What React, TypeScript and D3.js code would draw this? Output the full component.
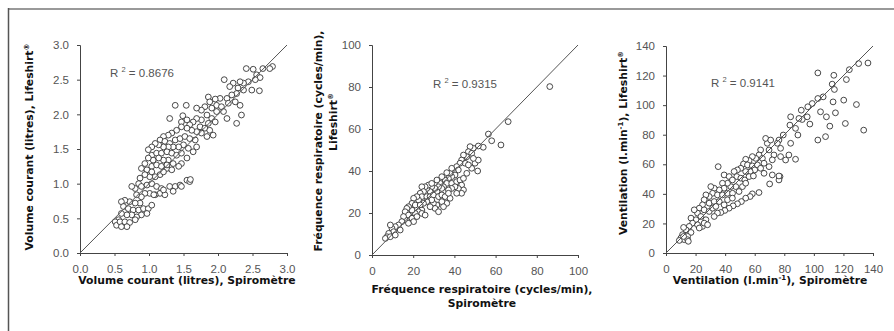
import React, { useRef, useEffect } from 'react';
import * as d3 from 'd3';

// tick values for each panel
const volumeTicks = [0, 0.5, 1, 1.5, 2, 2.5, 3];
const freqTicks = [0, 20, 40, 60, 80, 100];
const ventTicks = [0, 20, 40, 60, 80, 100, 120, 140];

// Volume courant (litres): [spiromètre, lifeshirt]
const volumePoints: [number, number][] = [
  [2.79, 2.69], [2.75, 2.66], [2.65, 2.66], [2.51, 2.65], [2.41, 2.66], [2.56, 2.57], [2.61, 2.53], [2.54, 2.5],
  [2.44, 2.47], [2.37, 2.45], [2.32, 2.47], [2.22, 2.45], [2.17, 2.4], [2.29, 2.38], [2.37, 2.35], [2.49, 2.35],
  [2.6, 2.34], [2.09, 2.5], [2.27, 2.3], [2.2, 2.28], [2.13, 2.23], [2.03, 2.23], [1.96, 2.22], [1.86, 2.25],
  [1.88, 2.18], [1.98, 2.13], [2.05, 2.11], [2.15, 2.16], [2.25, 2.18], [2.32, 2.13], [2.34, 1.99], [2.27, 1.87],
  [2.13, 1.94], [2.08, 2.04], [1.98, 2.04], [1.91, 2.09], [1.81, 2.11], [1.76, 2.06], [1.69, 2.09], [1.84, 1.99],
  [1.91, 1.94], [1.96, 1.89], [1.86, 1.87], [1.76, 1.92], [1.69, 1.94], [1.64, 1.89], [1.59, 1.85], [1.55, 1.92],
  [1.47, 1.89], [1.54, 2.13], [1.38, 2.13], [1.3, 1.94], [1.49, 1.98], [1.74, 1.82], [1.81, 1.8], [1.88, 1.77],
  [1.93, 1.7], [1.84, 1.68], [1.76, 1.73], [1.69, 1.75], [1.62, 1.77], [1.55, 1.8], [1.47, 1.82], [1.4, 1.77],
  [1.33, 1.73], [1.28, 1.7], [1.21, 1.68], [1.16, 1.63], [1.23, 1.61], [1.3, 1.58], [1.38, 1.63], [1.45, 1.65],
  [1.52, 1.68], [1.59, 1.65], [1.67, 1.63], [1.69, 1.53], [1.64, 1.46], [1.57, 1.51], [1.5, 1.56], [1.43, 1.53],
  [1.35, 1.53], [1.28, 1.53], [1.21, 1.53], [1.14, 1.56], [1.09, 1.58], [1.04, 1.53], [0.99, 1.49], [1.04, 1.41],
  [1.11, 1.44], [1.18, 1.44], [1.26, 1.46], [1.33, 1.44], [1.4, 1.41], [1.47, 1.44], [1.55, 1.37], [1.47, 1.29],
  [1.43, 1.25], [1.35, 1.29], [1.28, 1.34], [1.21, 1.34], [1.14, 1.37], [1.06, 1.34], [0.99, 1.37], [0.94, 1.29],
  [0.89, 1.22], [0.97, 1.2], [1.04, 1.25], [1.11, 1.27], [1.18, 1.25], [1.26, 1.22], [1.33, 1.2], [1.16, 1.13],
  [1.09, 1.1], [1.01, 1.1], [0.94, 1.13], [0.87, 1.08], [0.85, 1.0], [0.8, 0.93], [0.75, 0.96], [0.89, 0.96],
  [0.97, 0.98], [1.04, 1.0], [1.11, 0.96], [1.18, 0.93], [1.16, 0.86], [1.23, 0.84], [1.09, 0.84], [1.01, 0.86],
  [1.3, 0.96], [1.38, 0.96], [1.45, 0.98], [1.55, 1.05], [1.59, 1.03], [0.94, 0.86], [0.89, 0.81], [0.82, 0.84],
  [0.87, 0.72], [0.8, 0.72], [0.72, 0.74], [0.65, 0.76], [0.6, 0.74], [0.63, 0.67], [0.7, 0.64], [0.77, 0.62],
  [0.85, 0.62], [0.92, 0.64], [0.99, 0.64], [1.04, 0.69], [0.97, 0.57], [0.89, 0.55], [0.82, 0.52], [0.75, 0.55],
  [0.68, 0.55], [0.6, 0.57], [0.56, 0.48], [0.51, 0.45], [0.53, 0.4], [0.58, 0.45], [0.65, 0.45], [0.72, 0.44],
  [0.8, 0.48], [0.68, 0.38], [0.6, 0.38], [1.26, 1.27], [1.21, 1.17], [1.04, 1.17], [1.07, 0.84], [1.21, 0.91],
  [1.35, 0.89], [1.47, 0.96], [1.6, 1.06],
];

// Fréquence respiratoire (cycles/min)
const freqPoints: [number, number][] = [
  [86.3, 80.2], [66.1, 63.5], [62.6, 52.4], [58.1, 54.4], [56.5, 57.6], [51.3, 40.0],
  [54.0, 51.3], [51.6, 51.9], [49.2, 50.8], [47.6, 51.6], [46.8, 49.2], [48.4, 48.4], [46.0, 46.8], [44.4, 47.6],
  [43.5, 45.2], [45.2, 43.7], [42.7, 43.7], [41.1, 42.1], [41.9, 40.5], [39.5, 39.7], [40.3, 38.1], [38.7, 37.3],
  [37.9, 38.9], [37.1, 36.5], [35.5, 35.7], [36.3, 34.1], [38.7, 34.1], [41.1, 34.9], [42.7, 35.7], [44.4, 36.5],
  [43.5, 33.3], [44.4, 31.0], [43.5, 29.4], [41.9, 31.7], [40.3, 32.5], [38.7, 31.7], [37.1, 31.0], [34.7, 32.5],
  [33.9, 31.7], [33.1, 34.1], [32.3, 32.5], [31.5, 30.2], [30.6, 31.7], [29.0, 32.5], [28.2, 30.2], [26.6, 31.7],
  [27.4, 33.3], [25.8, 32.5], [24.2, 32.5], [25.0, 30.2], [23.4, 29.4], [24.2, 27.8], [26.6, 27.8], [28.2, 27.8],
  [29.8, 28.6], [32.3, 27.8], [33.9, 28.6], [35.5, 27.8], [37.9, 27.0], [36.3, 24.6], [33.9, 25.4], [31.5, 23.8],
  [29.8, 24.6], [30.6, 22.2], [32.3, 20.6], [29.0, 26.2], [26.6, 25.4], [25.0, 24.6], [22.6, 26.2], [21.8, 27.8],
  [20.2, 27.0], [19.4, 24.6], [21.0, 23.8], [23.4, 23.8], [24.2, 21.4], [22.6, 20.6], [21.0, 19.8], [19.4, 21.4],
  [17.7, 23.0], [16.9, 22.2], [16.1, 20.6], [17.7, 19.0], [19.4, 17.5], [21.8, 18.3], [20.2, 15.9], [16.1, 16.7],
  [15.3, 18.3], [14.5, 15.9], [12.9, 14.3], [11.3, 13.5], [9.7, 12.7], [8.9, 14.3], [10.5, 11.1], [8.1, 10.3],
  [7.3, 8.7], [6.5, 7.9], [8.9, 8.7], [11.3, 9.5], [13.7, 11.9], [17.7, 15.1], [24.2, 19.8], [25.8, 19.0],
  [28.2, 23.0], [34.7, 23.0], [37.1, 29.4], [41.1, 29.4], [46.0, 38.9], [48.4, 41.3], [50.0, 43.7], [51.6, 45.2],
  [46.8, 42.9], [49.2, 46.0], [31.5, 35.7], [33.9, 37.3], [29.0, 34.1], [38.7, 41.3], [36.3, 39.2],
];

// Ventilation (l.min-1)
const ventPoints: [number, number][] = [
  [136.6, 128.5], [130.3, 128.1], [124.0, 124.0], [122.0, 117.3], [113.5, 120.2], [102.7, 121.8], [112.4, 114.2],
  [113.9, 110.6], [106.3, 105.6], [102.7, 104.5], [98.9, 101.1], [95.9, 98.9], [91.5, 96.6], [120.2, 103.4],
  [128.8, 100.4], [113.0, 102.2], [104.5, 95.5], [108.5, 92.1], [114.6, 94.8], [121.3, 87.6], [110.8, 85.8],
  [107.9, 78.7], [102.7, 76.4], [133.7, 83.1], [97.3, 87.2], [95.5, 92.1], [92.1, 90.3], [89.9, 91.0], [84.3, 92.1],
  [83.8, 86.5], [87.6, 84.3], [89.2, 79.8], [84.3, 74.2], [79.3, 79.8], [76.4, 76.4], [75.3, 74.2], [77.5, 70.8],
  [83.1, 66.3], [87.6, 63.4], [77.5, 65.2], [73.0, 66.3], [71.9, 63.0], [69.7, 69.7], [68.5, 74.2], [67.4, 77.5],
  [70.8, 76.4], [64.0, 69.7], [62.9, 66.3], [65.2, 64.0], [66.3, 60.7], [69.7, 58.4], [71.9, 52.8], [77.1, 51.7],
  [76.4, 49.4], [70.1, 46.7], [60.7, 64.0], [58.4, 65.2], [56.2, 62.5], [53.9, 63.4], [52.4, 60.2], [55.1, 59.6],
  [58.4, 58.9], [61.8, 59.6], [60.0, 56.2], [56.9, 55.1], [53.9, 55.1], [50.6, 57.3], [48.3, 56.2], [46.1, 55.1],
  [47.9, 51.7], [50.6, 50.6], [53.3, 49.4], [56.2, 51.7], [59.1, 52.1], [64.0, 57.3], [66.3, 53.9], [62.9, 40.9],
  [58.4, 40.0], [56.9, 38.2], [53.9, 37.1], [51.0, 34.8], [48.3, 33.3], [45.4, 31.9], [42.7, 30.3], [39.8, 28.8],
  [37.1, 27.4], [34.8, 27.0], [32.6, 24.7], [35.3, 58.4], [39.3, 52.8], [42.7, 51.7], [44.9, 49.4], [47.2, 44.9],
  [43.8, 44.9], [41.6, 47.2], [38.2, 47.2], [39.3, 43.8], [36.0, 42.7], [32.6, 43.8], [30.3, 44.9], [31.5, 40.4],
  [34.8, 39.3], [38.2, 39.3], [41.6, 40.4], [45.0, 40.4], [49.4, 41.6], [51.7, 44.9], [53.9, 47.2], [29.2, 38.2],
  [27.0, 39.3], [25.8, 36.0], [29.2, 33.7], [32.6, 34.8], [36.0, 34.8], [39.3, 32.6], [41.6, 36.0], [44.9, 37.1],
  [24.7, 32.6], [22.5, 30.3], [25.8, 29.2], [29.2, 28.1], [31.5, 30.3], [33.7, 31.5], [21.3, 27.0], [19.1, 29.2],
  [23.6, 24.7], [27.0, 22.5], [20.2, 22.5], [16.9, 23.6], [18.0, 20.2], [21.3, 19.1], [24.7, 18.0], [25.8, 20.2],
  [15.7, 18.0], [13.5, 15.7], [16.9, 13.9], [14.6, 11.2], [11.2, 12.4], [10.1, 10.1], [12.4, 9.0], [9.0, 8.5],
  [14.6, 9.0], [15.1, 7.9], [11.9, 11.2], [28.1, 19.1], [22.5, 16.9], [11.9, 17.3], [80.9, 62.9], [76.4, 52.1],
];

interface PanelProps {
  points: [number, number][];
  ticks: number[];
  fmt: (d: number) => string;
  left: number;
  right: number;
  top: number;
  bottom: number;
  r2: string;
  r2x: number;
  r2y: number;
}

const Panel: React.FC<PanelProps> = ({ points, ticks, fmt, left, right, top, bottom, r2, r2x, r2y }) => {
  const xAxisRef = useRef<SVGGElement>(null);
  const yAxisRef = useRef<SVGGElement>(null);
  const max = ticks[ticks.length - 1];
  const x = d3.scaleLinear().domain([0, max]).range([left, right]);
  const y = d3.scaleLinear().domain([0, max]).range([bottom, top]);

  useEffect(() => {
    const gx = d3.select(xAxisRef.current);
    gx.selectAll('*').remove();
    gx.attr('transform', `translate(0,${bottom})`)
      .call(d3.axisBottom(x).tickValues(ticks).tickFormat(fmt as any).tickSizeOuter(0).tickSize(3).tickPadding(9) as any);

    const gy = d3.select(yAxisRef.current);
    gy.selectAll('*').remove();
    gy.attr('transform', `translate(${left},0)`)
      .call(d3.axisLeft(y).tickValues(ticks).tickFormat(fmt as any).tickSizeOuter(0).tickSize(3).tickPadding(8) as any);

    [gx, gy].forEach(g => {
      g.selectAll('path').attr('stroke', '#444');
      g.selectAll('line').attr('stroke', '#444');
      g.selectAll('text')
        .attr('fill', '#555')
        .style('font-family', 'Liberation Sans, Arial, sans-serif')
        .style('font-size', '11.5px');
    });
  }, [points, ticks]);

  return (
    <g>
      <g ref={xAxisRef} />
      <g ref={yAxisRef} />
      {points.map((d, i) => (
        <circle key={i} cx={x(d[0])} cy={y(d[1])} r={2.9} fill="#fff" stroke="#333" strokeWidth={0.9} />
      ))}
      <line x1={x(0)} y1={y(0)} x2={x(max)} y2={y(max)} stroke="#555" strokeWidth={1} />
      <text x={r2x} y={r2y} fill="#555" fontFamily="Liberation Sans, Arial, sans-serif" fontSize={11.5}>
        R <tspan fontSize={7.5} dy={-5}>2</tspan><tspan dy={5}> = {r2}</tspan>
      </text>
    </g>
  );
};

const titleStyle = {
  fontFamily: 'DejaVu Sans, Verdana, sans-serif',
  fontWeight: 'bold' as const,
  fontSize: '10.8px',
  fill: '#111',
};

const App: React.FC = () => {
  const fmt1 = (d: number) => d3.format('.1f')(d);
  const fmt0 = (d: number) => d3.format('d')(d);
  return (
    <svg width={894} height={331} style={{ position: 'absolute', left: 0, top: 0, background: '#fff' }}>
      <rect x={0} y={0} width={894} height={331} fill="#fff" />
      <line x1={8} y1={9} x2={894} y2={9} stroke="#999" strokeWidth={2} />
      <line x1={8.5} y1={8} x2={8.5} y2={331} stroke="#555" strokeWidth={1.5} />

      <Panel points={volumePoints} ticks={volumeTicks} fmt={fmt1} left={80} right={287} top={45} bottom={253}
        r2="0.8676" r2x={110} r2y={77} />
      <Panel points={freqPoints} ticks={freqTicks} fmt={fmt0} left={372} right={578} top={45} bottom={255}
        r2="0.9315" r2x={433} r2y={88} />
      <Panel points={ventPoints} ticks={ventTicks} fmt={fmt0} left={666} right={873} top={46} bottom={253}
        r2="0.9141" r2x={711} r2y={87} />

      {/* x axis titles */}
      <text x={187} y={284} textAnchor="middle" style={titleStyle}>Volume courant (litres), Spiromètre</text>
      <text x={482} y={293} textAnchor="middle" style={titleStyle}>Fréquence respiratoire (cycles/min),</text>
      <text x={482} y={307} textAnchor="middle" style={titleStyle}>Spiromètre</text>
      <text x={770} y={284} textAnchor="middle" style={titleStyle}>
        Ventilation (l.min<tspan fontSize={7} dy={-4}>-1</tspan><tspan dy={4}>), Spiromètre</tspan>
      </text>

      {/* y axis titles */}
      <text transform="translate(33,147) rotate(-90)" textAnchor="middle" style={titleStyle}>
        Volume courant (litres), Lifeshirt<tspan fontSize={7} dy={-4}>®</tspan>
      </text>
      <text transform="translate(322,141) rotate(-90)" textAnchor="middle" style={titleStyle}>
        Fréquence respiratoire (cycles/min),
      </text>
      <text transform="translate(337,122) rotate(-90)" textAnchor="middle" style={titleStyle}>
        Lifeshirt<tspan fontSize={7} dy={-4}>®</tspan>
      </text>
      <text transform="translate(627,143) rotate(-90)" textAnchor="middle" style={titleStyle}>
        Ventilation (l.min<tspan fontSize={7} dy={-4}>-1</tspan><tspan dy={4}>), Lifeshirt</tspan><tspan fontSize={7} dy={-4}>®</tspan>
      </text>
    </svg>
  );
};

export default App;
